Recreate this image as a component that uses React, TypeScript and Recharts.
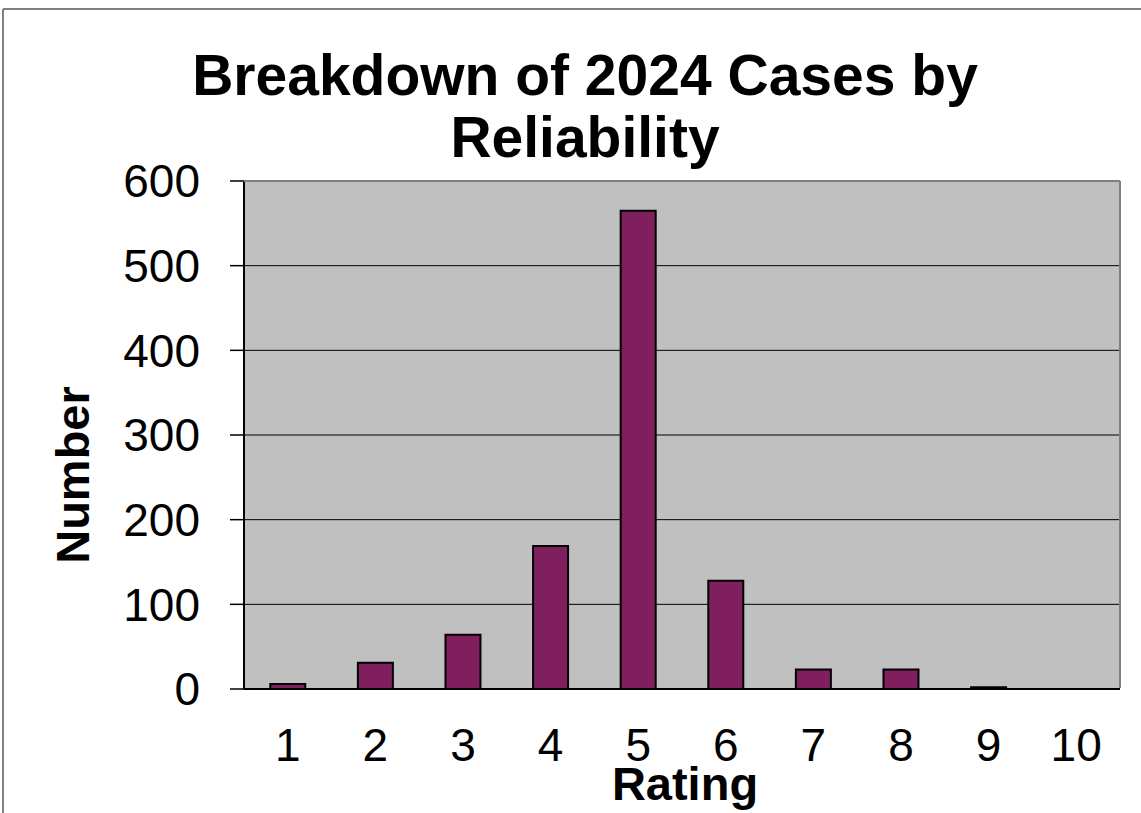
import React from 'react';
import { BarChart, Bar, XAxis, YAxis, CartesianGrid } from 'recharts';

const ratings = ['1', '2', '3', '4', '5', '6', '7', '8', '9', '10'];
const counts = [6, 31, 64, 169, 565, 128, 23, 23, 2, 0];
const yTicks = [0, 100, 200, 300, 400, 500, 600];
const boundaryTicks = [0, 1, 2, 3, 4, 5, 6, 7, 8, 9, 10];
const titleLines = ['Breakdown of 2024 Cases by', 'Reliability'];
const xTitle = 'Rating';
const yTitle = 'Number';

const data = ratings.map((r, i) => ({ rating: r, count: counts[i] }));

const FONT = '"Liberation Sans", Arial, sans-serif';

export default function App() {
  return (
    <div style={{ position: 'absolute', left: 0, top: 0, width: 1141, height: 813, background: '#fff', fontFamily: FONT }}>
      <BarChart
        width={1141}
        height={813}
        data={data}
        margin={{ top: 181, right: 21, bottom: 0, left: 0 }}
        barCategoryGap="30%"
      >
        <CartesianGrid horizontal vertical={false} stroke="#000" strokeWidth={1} fill="#C0C0C0" fillOpacity={1} />
        <XAxis
          xAxisId="edge"
          type="number"
          domain={[0, 10]}
          ticks={boundaryTicks}
          height={0}
          tickSize={15}
          axisLine={false}
          tickLine={{ stroke: '#000', strokeWidth: 1.5 }}
          tickFormatter={() => ''}
          allowDataOverflow
        />
        <XAxis
          xAxisId="main"
          dataKey="rating"
          height={124}
          interval={0}
          tickLine={false}
          tickSize={0}
          tickMargin={39}
          axisLine={{ stroke: '#000', strokeWidth: 2 }}
          tick={{ fontSize: 46, fill: '#000', fontFamily: FONT }}
        />
        <YAxis
          width={244}
          domain={[0, 600]}
          ticks={yTicks}
          interval={0}
          tickSize={14}
          tickMargin={30}
          axisLine={{ stroke: '#000', strokeWidth: 2 }}
          tickLine={{ stroke: '#000', strokeWidth: 1.5 }}
          tick={{ fontSize: 46, fill: '#000', fontFamily: FONT }}
        />
        <Bar xAxisId="main" dataKey="count" fill="#801F5E" stroke="#000" strokeWidth={2} isAnimationActive={false} />
      </BarChart>
      <svg width={1141} height={813} style={{ position: 'absolute', left: 0, top: 0, pointerEvents: 'none' }}>
        <line x1={3} y1={9} x2={1141} y2={9} stroke="#808080" strokeWidth={2} />
        <line x1={3} y1={9} x2={3} y2={813} stroke="#808080" strokeWidth={2} />
        <line x1={244} y1={181} x2={1120} y2={181} stroke="#808080" strokeWidth={2} />
        <line x1={1120} y1={181} x2={1120} y2={688} stroke="#808080" strokeWidth={2} />
        <text x={585} y={95} textAnchor="middle" fontSize={57} fontWeight="bold" fontFamily={FONT} fill="#000">{titleLines[0]}</text>
        <text x={585} y={157} textAnchor="middle" fontSize={57} fontWeight="bold" fontFamily={FONT} fill="#000">{titleLines[1]}</text>
        <text x={685} y={800} textAnchor="middle" fontSize={47} fontWeight="bold" fontFamily={FONT} fill="#000">{xTitle}</text>
        <text x={89} y={475} textAnchor="middle" fontSize={47} fontWeight="bold" fontFamily={FONT} fill="#000" transform="rotate(-90 89 475)">{yTitle}</text>
      </svg>
    </div>
  );
}
